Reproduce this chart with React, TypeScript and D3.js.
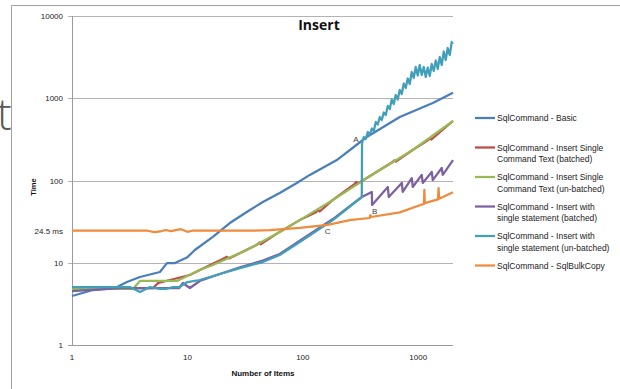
import * as d3 from "d3";

// chart size (matches the screenshot)
const WIDTH = 620;
const HEIGHT = 389;

// axis values
const xTicks = [1, 10, 100, 1000];
const yGrid = [10, 100, 1000, 10000];
const yTicks = [1, 10, 24.5, 100, 1000, 10000];
const yTickLabels = ["1", "10", "24.5 ms", "100", "1000", "10000"];

// series - [number of items, time]
const basic = [
  [1, 3.94], [1.52, 4.66], [2.36, 4.93], [2.99, 5.83], [3.88, 6.71], [5.78, 7.72],
  [6.65, 9.9], [7.8, 9.9], [10, 11.7], [11.6, 14.3], [16.6, 20.6], [23.3, 30.4],
  [32.7, 41.4], [45, 54.8], [63, 70.5], [88.7, 93.3], [115, 117], [197, 177],
  [358, 338], [692, 591], [1336, 875], [2000, 1170],
];
const batchedText = [
  [1, 4.9], [5.0, 4.9], [5.6, 5.7], [7.5, 6.3], [10.5, 7.1], [12.8, 8.17], [20, 11],
  [22, 11.8], [23, 11.3], [40, 16.5], [42, 17.6], [43, 16.8], [63, 23.7], [94, 33],
  [130, 41], [135, 44], [140, 42], [182, 58], [280, 90], [290, 96], [300, 92],
  [358, 107], [600, 168], [620, 176], [640, 170], [895, 235], [1200, 305],
  [1250, 322], [1300, 315], [2000, 529],
];
const unbatchedText = [
  [1, 4.8], [3.37, 4.8], [3.88, 6.0], [8.1, 6.0], [12.8, 8.17], [16.6, 9.4],
  [32.7, 14.3], [63, 23.7], [94, 33], [182, 58], [358, 107], [895, 235], [2000, 529],
];
const batchedSingle = [
  [1, 4.53], [2.6, 4.93], [8.5, 4.93], [9.1, 5.67], [10.5, 4.93], [12.8, 6.0],
  [19.1, 7.3], [28.5, 8.8], [45, 10.6], [63, 12.8], [94, 18.5], [182, 34], [324, 63],
  [396, 72.5], [398, 50.4], [545, 83.4], [555, 63], [720, 93.4], [734, 72.5],
  [879, 107], [896, 83.4], [1072, 117], [1094, 93.4], [1309, 127], [1336, 101],
  [1597, 142], [1630, 117], [2000, 177],
];
const unbatchedSingle = [
  [1, 5.07], [3.18, 5.07], [3.88, 4.4], [4.73, 5.07], [5.8, 4.8], [6.5, 4.8],
  [7.5, 5.07], [8.5, 5.07], [10, 5.83], [12.8, 6.17], [19.1, 7.3], [28.5, 8.6],
  [45, 10.2], [63, 12.4], [94, 17.9], [182, 33], [324, 63], [326, 286],
  [337.4, 338], [351.2, 319.6], [365.5, 388.8], [380.3, 357.5], [395.8, 428.8],
  [411.9, 399.8], [428.6, 514.3], [446, 479.6], [464.2, 591.6], [483, 543.9],
  [502.7, 670.8], [523.1, 625.7], [544.4, 805.1], [566.5, 740.2], [589.5, 965.6],
  [613.5, 851.3], [638.4, 1095], [664.4, 965.6], [691.4, 1260], [719.7, 1126],
  [749, 1511], [779.4, 1332], [811, 1739], [844, 1490], [878, 2085], [914, 1763],
  [951, 2399], [990, 1891], [1030, 2537], [1072, 1918], [1116, 2399], [1161, 1813],
  [1209, 2365], [1258, 1864], [1309, 2609], [1362, 2145], [1418, 2877], [1475, 2268],
  [1535, 3173], [1598, 2537], [1663, 3702], [1730, 2917], [1800, 4083], [1874, 3357],
  [1950, 4830], [1990, 4566],
];
const bulkCopy = [
  [1, 24.5], [4.5, 24.5], [5.2, 23.6], [6, 24.3], [6.5, 25], [7.2, 24.3], [8.8, 25.6],
  [10, 23.8], [11, 24.5], [20, 24.5], [35, 24.5], [52, 25], [94, 26.5], [164, 28.8],
  [255, 33], [380, 35], [385, 38], [390, 36], [692, 41], [1031, 50], [1120, 52],
  [1130, 77], [1140, 53], [1480, 59], [1500, 81], [1520, 60], [2000, 72],
];

const seriesData = [basic, batchedText, unbatchedText, batchedSingle, unbatchedSingle, bulkCopy];
const seriesNames = [
  ["SqlCommand - Basic"],
  ["SqlCommand - Insert Single", "Command Text (batched)"],
  ["SqlCommand - Insert Single", "Command Text (un-batched)"],
  ["SqlCommand - Insert with", "single statement (batched)"],
  ["SqlCommand - Insert with", "single statement (un-batched)"],
  ["SqlCommand - SqlBulkCopy"],
];
const seriesColors = ["#4a7ebb", "#be4b48", "#98b954", "#7d60a0", "#40a0ba", "#f08a3c"];

// callouts
const notes = [
  ["A", 288, 320],
  ["B", 420, 42.6],
  ["C", 164, 24.3],
];

const FONT = "'Liberation Sans', Arial, sans-serif";

export default function App() {
  const x = d3.scaleLog().domain([1, 2000]).range([72, 453]);
  const y = d3.scaleLog().domain([1, 10000]).range([345, 16]);
  const line = d3.line<number[]>().x((d) => x(d[0])).y((d) => y(d[1]));

  return (
    <svg
      width={WIDTH}
      height={HEIGHT}
      style={{ position: "absolute", left: 0, top: 0, background: "#fff" }}
      fontFamily={FONT}
    >
      <defs>
        <clipPath id="tclip">
          <rect x={0} y={0} width={11} height={HEIGHT} />
        </clipPath>
      </defs>
      {/* stray slide letter behind the chart */}
      <text x={-3} y={130} fontSize={44} fill="#595959" fontFamily="'Open Sans', sans-serif" fontWeight={300} clipPath="url(#tclip)">
        t
      </text>
      {/* chart frame */}
      <path d={`M11.5,${HEIGHT} V5.5 H${WIDTH}`} fill="none" stroke="#a0a0a0" />

      {/* gridlines */}
      {yGrid.map((v) => (
        <line key={v} x1={68} x2={453} y1={Math.round(y(v)) + 0.5} y2={Math.round(y(v)) + 0.5} stroke="#b3b3b3" />
      ))}
      {/* axes */}
      <line x1={72.5} x2={72.5} y1={16} y2={345} stroke="#9a9a9a" />
      <line x1={68} x2={453} y1={345.5} y2={345.5} stroke="#9a9a9a" />

      {yTicks.map((v, i) => (
        <text key={v} x={63} y={y(v) + 3} fontSize={8} textAnchor="end" fill="#222">
          {yTickLabels[i]}
        </text>
      ))}
      {xTicks.map((v) => (
        <text key={v} x={x(v)} y={360} fontSize={8} textAnchor="middle" fill="#222">
          {v}
        </text>
      ))}

      {/* series */}
      {seriesData.map((s, i) => (
        <path key={i} d={line(s) ?? ""} fill="none" stroke={seriesColors[i]} strokeWidth={2.25} strokeLinejoin="round" />
      ))}

      {notes.map(([t, nx, ny]) => (
        <text key={t as string} x={x(nx as number)} y={y(ny as number) + 3} fontSize={8} textAnchor="middle" fill="#404040">
          {t}
        </text>
      ))}

      {/* titles */}
      <text x={319} y={30} fontSize={14} fontWeight="bold" textAnchor="middle" fontFamily="'Open Sans', sans-serif" fill="#111">
        Insert
      </text>
      <text transform="translate(36,187) rotate(-90)" fontSize={7.5} fontWeight="bold" textAnchor="middle" fill="#111">
        Time
      </text>
      <text x={263} y={376} fontSize={8} fontWeight="bold" textAnchor="middle" fill="#111">
        Number of Items
      </text>

      {/* legend */}
      {seriesNames.map((lines, i) => {
        const ly = 118 + i * 29.5;
        return (
          <g key={i}>
            <line x1={475} x2={495} y1={ly} y2={ly} stroke={seriesColors[i]} strokeWidth={2.25} />
            {lines.map((t, j) => (
              <text key={j} x={497} y={ly + 3 + j * 11.5} fontSize={8.5} fill="#222">
                {t}
              </text>
            ))}
          </g>
        );
      })}
    </svg>
  );
}
